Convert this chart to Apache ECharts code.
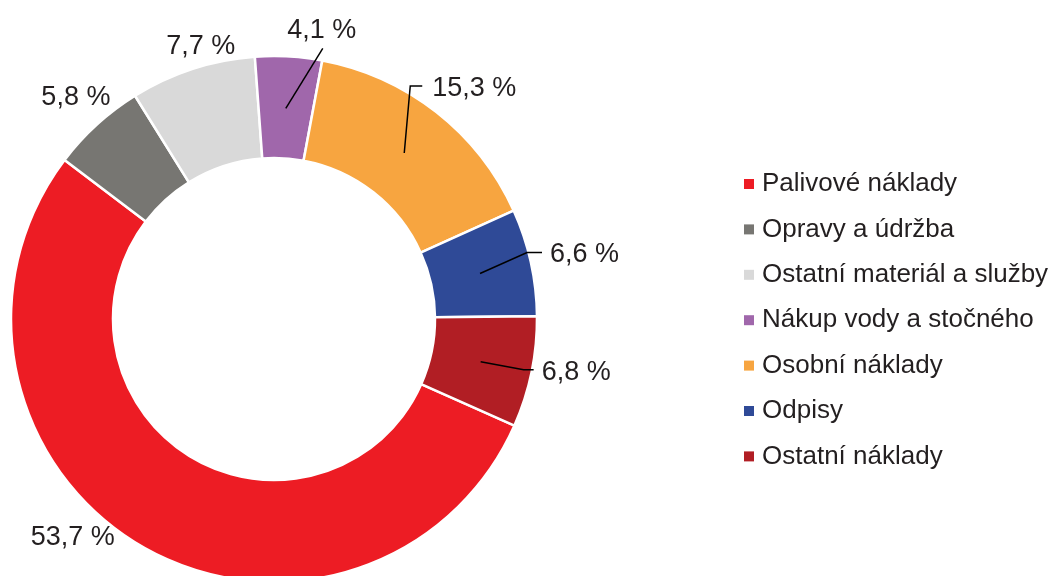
<!DOCTYPE html>
<html>
<head>
<meta charset="utf-8">
<script src="https://cdn.jsdelivr.net/npm/echarts@6/dist/echarts.min.js"></script>
<style>
  html, body { margin: 0; padding: 0; background: #fff; }
  #chart { width: 1058px; height: 576px; }
</style>
</head>
<body>
<div id="chart"></div>
<script>
// data
var categories = ['Palivové náklady', 'Opravy a údržba', 'Ostatní materiál a služby',
  'Nákup vody a stočného', 'Osobní náklady', 'Odpisy', 'Ostatní náklady'];
var shares = [53.7, 5.8, 7.7, 4.1, 15.3, 6.6, 6.8];

var colors = ['#ED1C24', '#777672', '#D9D9D9', '#A067AB', '#F7A540', '#2F4A97', '#B11E24'];
var FONT = '"Liberation Sans", Arial, sans-serif';
var TEXT = '#231F20';

// where each label sits, relative to the middle of its ring segment (Excel style leaders)
// line: [bend point, end point] offsets, text: anchor offset
var leaders = [
  { text: [-94, 36.5], align: 'center' },
  { text: [-56, -65.5], align: 'center' },
  { text: [-8, -71.5], align: 'center' },
  { line: [[37, -60], [37, -60]], text: [36, -77.5], align: 'center' },
  { line: [[6, -67], [18, -67]], text: [28, -64.5], align: 'left' },
  { line: [[47, -21], [62, -21]], text: [70, -18.5], align: 'left' },
  { line: [[43, 8], [53, 8]], text: [61, 10.5], align: 'left' }
];

var chart = echarts.init(document.getElementById('chart'));

var ringData = categories.map(function (name, i) {
  return { name: name, value: shares[i], itemStyle: { color: colors[i] } };
});
var labelData = categories.map(function (name, i) {
  return {
    name: name, value: shares[i],
    labelLine: { lineStyle: { opacity: leaders[i].line ? 1 : 0 } }
  };
});

var option = {
  animation: false,
  legend: {
    orient: 'vertical',
    left: 739,
    top: 166,
    icon: 'rect',
    itemWidth: 10,
    itemHeight: 10,
    itemGap: 19.4,
    selectedMode: false,
    itemStyle: { borderWidth: 0 },
    textStyle: { fontSize: 26, lineHeight: 26, color: TEXT, fontFamily: FONT, padding: [0, 0, 0, 3] },
    data: categories
  },
  series: [
    {
      type: 'pie',
      z: 2,
      center: [274, 319],
      radius: [161, 263],
      startAngle: -23.9,
      clockwise: true,
      emphasis: { disabled: true },
      itemStyle: { borderColor: '#fff', borderWidth: 2.5 },
      label: { show: false },
      labelLine: { show: false },
      data: ringData
    },
    {
      // invisible pie up to the middle of the ring, only carries labels + leaders
      type: 'pie',
      z: 10,
      center: [274, 319],
      radius: [0, 211],
      startAngle: -23.9,
      clockwise: true,
      silent: true,
      avoidLabelOverlap: false,
      emphasis: { disabled: true },
      itemStyle: { color: 'rgba(0,0,0,0)', borderWidth: 0 },
      label: {
        show: true,
        position: 'outside',
        fontSize: 27,
        fontFamily: FONT,
        color: TEXT,
        formatter: function (p) { return String(p.value).replace('.', ',') + ' %'; }
      },
      labelLine: { show: true, length: 10, length2: 10, lineStyle: { color: '#000', width: 1.5 } },
      labelLayout: function (p) {
        var lp = p.labelLinePoints;
        var p1 = lp[0];
        var c = leaders[p.dataIndex];
        var pts = [p1, p1, p1];
        if (c.line) {
          pts = [p1,
            [p1[0] + c.line[0][0], p1[1] + c.line[0][1]],
            [p1[0] + c.line[1][0], p1[1] + c.line[1][1]]];
        }
        return {
          x: p1[0] + c.text[0],
          y: p1[1] + c.text[1],
          align: c.align,
          verticalAlign: 'middle',
          labelLinePoints: pts
        };
      },
      data: labelData
    }
  ]
};

chart.setOption(option);
</script>
</body>
</html>
